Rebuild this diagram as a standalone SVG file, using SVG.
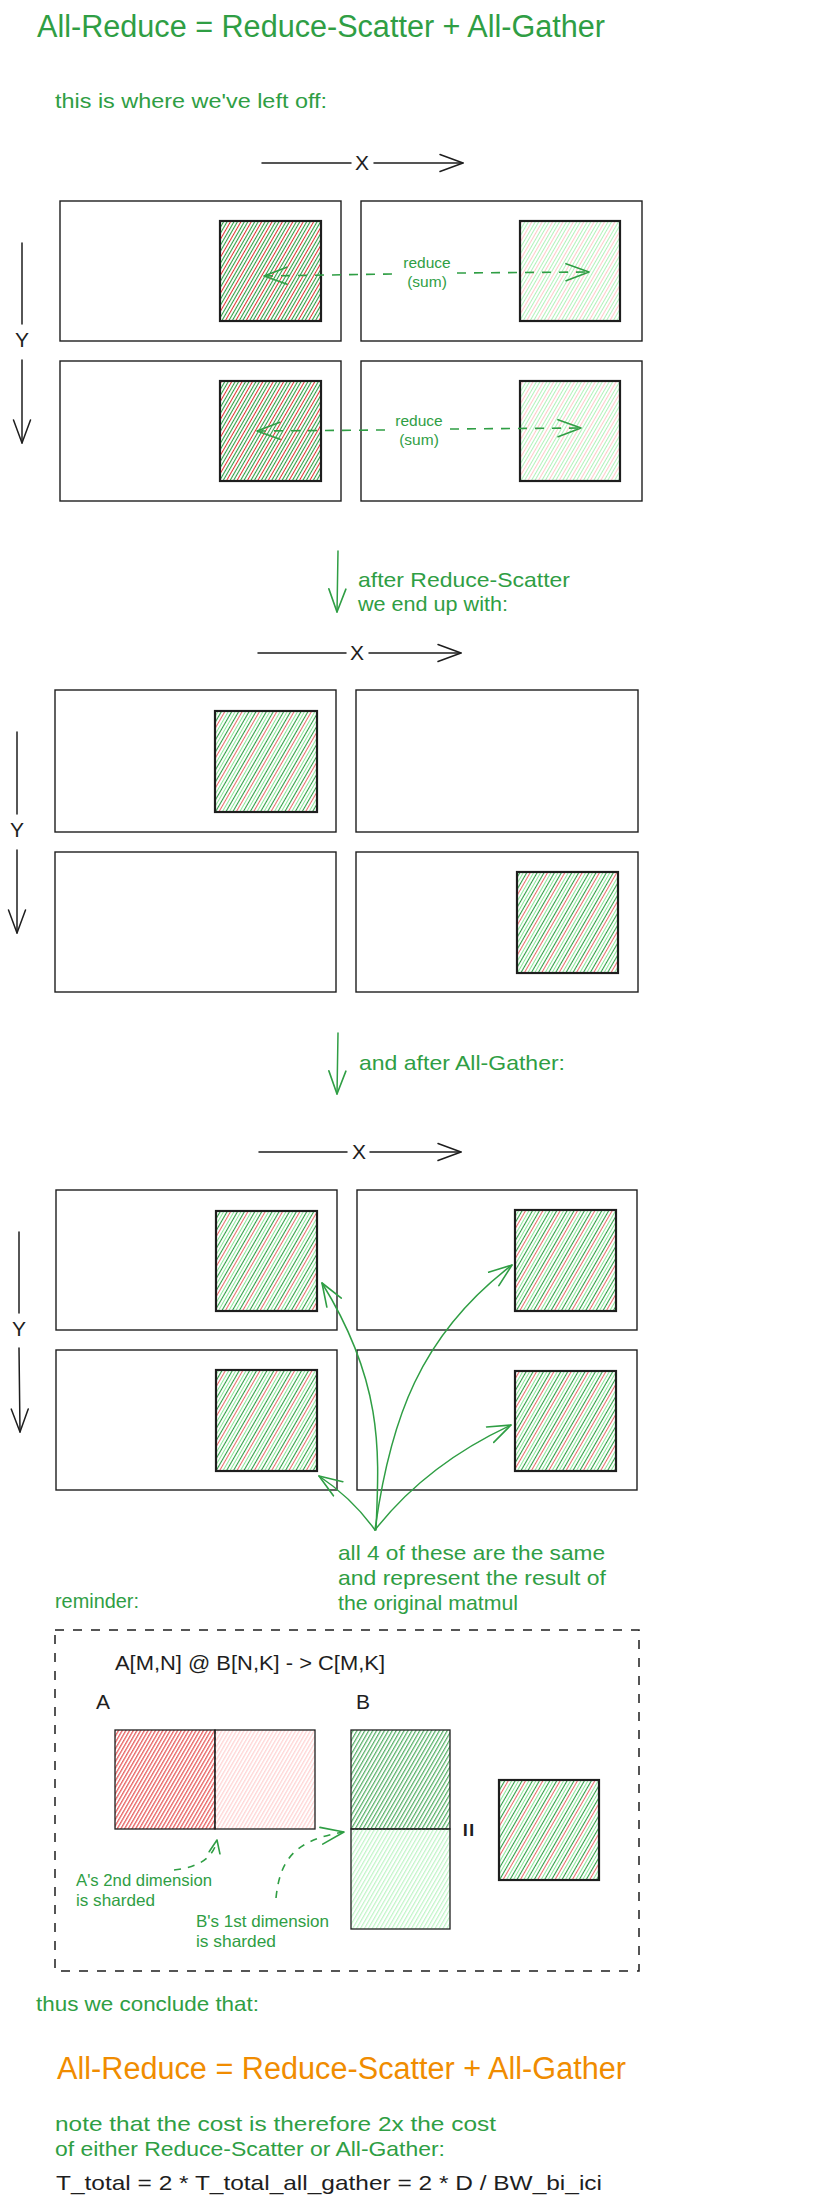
<svg xmlns="http://www.w3.org/2000/svg" width="817" height="2205" viewBox="0 0 817 2205">
<defs>
<style>
text { font-family: "Liberation Sans", Arial, sans-serif; }
.g { fill: #2f9e44; }
.k { fill: #1e1e1e; }
.o { fill: #f08c00; }
.t20 { font-size: 21px; }
.t16 { font-size: 16.5px; }
.t15 { font-size: 15.5px; }
.t30 { font-size: 31px; }
.box { fill: #ffffff; stroke: #1e1e1e; stroke-width: 1.4; }
.sq { stroke: #1e1e1e; stroke-width: 2.2; }
.mx { stroke: #1e1e1e; stroke-width: 1.3; }
.ax { fill: none; stroke: #1e1e1e; stroke-width: 1.5; stroke-linecap: round; }
.ga { fill: none; stroke: #2f9e44; stroke-width: 1.5; stroke-linecap: round; }
.gd { fill: none; stroke: #2f9e44; stroke-width: 1.6; stroke-dasharray: 9 8; }
.dash { fill: none; stroke: #1e1e1e; stroke-width: 1.5; stroke-dasharray: 9 9; }
</style>
<pattern id="pDarkMix" patternUnits="userSpaceOnUse" width="9" height="10" patternTransform="rotate(30)">
<line x1="1.5" y1="0" x2="1.5" y2="10" stroke="#2f9e44" stroke-width="1.1"/>
<line x1="4.5" y1="0" x2="4.5" y2="10" stroke="#e03131" stroke-width="1"/>
<line x1="7.5" y1="0" x2="7.5" y2="10" stroke="#2f9e44" stroke-width="1.1"/>
</pattern>
<pattern id="pLightMix" patternUnits="userSpaceOnUse" width="9" height="10" patternTransform="rotate(30)">
<line x1="1.5" y1="0" x2="1.5" y2="10" stroke="#b2f2bb" stroke-width="1"/>
<line x1="4.5" y1="0" x2="4.5" y2="10" stroke="#ffc9c9" stroke-width="1"/>
<line x1="7.5" y1="0" x2="7.5" y2="10" stroke="#b2f2bb" stroke-width="1"/>
</pattern>
<pattern id="pResult" patternUnits="userSpaceOnUse" width="15" height="10" patternTransform="rotate(30)">
<line x1="1.5" y1="0" x2="1.5" y2="10" stroke="#2f9e44" stroke-width="1.1"/>
<line x1="4.5" y1="0" x2="4.5" y2="10" stroke="#8ce99a" stroke-width="1"/>
<line x1="7.5" y1="0" x2="7.5" y2="10" stroke="#2f9e44" stroke-width="1.1"/>
<line x1="10.5" y1="0" x2="10.5" y2="10" stroke="#e03131" stroke-width="0.9" stroke-opacity="0.8"/>
<line x1="13.5" y1="0" x2="13.5" y2="10" stroke="#8ce99a" stroke-width="1"/>
</pattern>
<pattern id="pRed" patternUnits="userSpaceOnUse" width="3.2" height="10" patternTransform="rotate(30)">
<line x1="1.5" y1="0" x2="1.5" y2="10" stroke="#e03131" stroke-width="1"/>
</pattern>
<pattern id="pPink" patternUnits="userSpaceOnUse" width="3.2" height="10" patternTransform="rotate(30)">
<line x1="1.5" y1="0" x2="1.5" y2="10" stroke="#ffc9c9" stroke-width="1"/>
</pattern>
<pattern id="pGreen" patternUnits="userSpaceOnUse" width="3.4" height="10" patternTransform="rotate(30)">
<line x1="1.5" y1="0" x2="1.5" y2="10" stroke="#2f9e44" stroke-width="1"/>
</pattern>
<pattern id="pLightGreen" patternUnits="userSpaceOnUse" width="3.4" height="10" patternTransform="rotate(30)">
<line x1="1.5" y1="0" x2="1.5" y2="10" stroke="#b2f2bb" stroke-width="1"/>
</pattern>
<marker id="hk" viewBox="0 0 26 20" refX="24" refY="10" markerWidth="26" markerHeight="20" markerUnits="userSpaceOnUse" orient="auto-start-reverse">
<path d="M1,1.5 L24,10 L1,18.5" fill="none" stroke="#1e1e1e" stroke-width="1.5" stroke-linecap="round" stroke-linejoin="round"/>
</marker>
<marker id="hg" viewBox="0 0 26 20" refX="24" refY="10" markerWidth="26" markerHeight="20" markerUnits="userSpaceOnUse" orient="auto-start-reverse">
<path d="M1,1.5 L24,10 L1,18.5" fill="none" stroke="#2f9e44" stroke-width="1.6" stroke-linecap="round" stroke-linejoin="round"/>
</marker>
<marker id="hgs" viewBox="0 0 16 14" refX="14" refY="7" markerWidth="16" markerHeight="14" markerUnits="userSpaceOnUse" orient="auto">
<path d="M1,1.5 L14,7 L1,12.5" fill="none" stroke="#2f9e44" stroke-width="1.6" stroke-linecap="round" stroke-linejoin="round"/>
</marker>
</defs>

<rect x="0" y="0" width="817" height="2205" fill="#ffffff"/>

<!-- ===== Texts ===== -->
<g id="title-top"><text class="g t30" x="37" y="37" textLength="568" lengthAdjust="spacingAndGlyphs">All-Reduce = Reduce-Scatter + All-Gather</text></g>
<g id="intro-text"><text class="g t20" x="55" y="108" textLength="272" lengthAdjust="spacingAndGlyphs">this is where we've left off:</text></g>

<!-- ===== Section 1 ===== -->
<g id="s1-x-label"><text class="k t20" x="362" y="170" text-anchor="middle">X</text></g>
<g id="s1-y-label"><text class="k t20" x="22" y="347" text-anchor="middle">Y</text></g>
<g id="s1-dev-00"><rect class="box" x="60" y="201" width="281" height="140"/></g>
<g id="s1-dev-10"><rect class="box" x="361" y="201" width="281" height="140"/></g>
<g id="s1-dev-01"><rect class="box" x="60" y="361" width="281" height="140"/></g>
<g id="s1-dev-11"><rect class="box" x="361" y="361" width="281" height="140"/></g>
<g id="s1-shard-00"><rect class="sq" x="220" y="221" width="101" height="100" fill="url(#pDarkMix)"/></g>
<g id="s1-shard-10"><rect class="sq" x="520" y="221" width="100" height="100" fill="url(#pLightMix)"/></g>
<g id="s1-shard-01"><rect class="sq" x="220" y="381" width="101" height="100" fill="url(#pDarkMix)"/></g>
<g id="s1-shard-11"><rect class="sq" x="520" y="381" width="100" height="100" fill="url(#pLightMix)"/></g>
<g id="s1-reduce-label-1"><text class="g t15" x="427" y="268" text-anchor="middle">reduce</text><text class="g t15" x="427" y="287" text-anchor="middle">(sum)</text></g>
<g id="s1-reduce-label-2"><text class="g t15" x="419" y="426" text-anchor="middle">reduce</text><text class="g t15" x="419" y="445" text-anchor="middle">(sum)</text></g>

<g id="s2-caption"><text class="g t20" x="358" y="587" textLength="212" lengthAdjust="spacingAndGlyphs">after Reduce-Scatter</text><text class="g t20" x="358" y="611" textLength="150" lengthAdjust="spacingAndGlyphs">we end up with:</text></g>

<!-- ===== Section 2 ===== -->
<g id="s2-x-label"><text class="k t20" x="357" y="660" text-anchor="middle">X</text></g>
<g id="s2-y-label"><text class="k t20" x="17" y="837" text-anchor="middle">Y</text></g>
<g id="s2-dev-00"><rect class="box" x="55" y="690" width="281" height="142"/></g>
<g id="s2-dev-10"><rect class="box" x="356" y="690" width="282" height="142"/></g>
<g id="s2-dev-01"><rect class="box" x="55" y="852" width="281" height="140"/></g>
<g id="s2-dev-11"><rect class="box" x="356" y="852" width="282" height="140"/></g>
<g id="s2-shard-00"><rect class="sq" x="215" y="711" width="102" height="101" fill="url(#pResult)"/></g>
<g id="s2-shard-11"><rect class="sq" x="517" y="872" width="101" height="101" fill="url(#pResult)"/></g>

<g id="s3-caption"><text class="g t20" x="359" y="1070" textLength="206" lengthAdjust="spacingAndGlyphs">and after All-Gather:</text></g>

<!-- ===== Section 3 ===== -->
<g id="s3-x-label"><text class="k t20" x="359" y="1159" text-anchor="middle">X</text></g>
<g id="s3-y-label"><text class="k t20" x="19" y="1336" text-anchor="middle">Y</text></g>
<g id="s3-dev-00"><rect class="box" x="56" y="1190" width="281" height="140"/></g>
<g id="s3-dev-10"><rect class="box" x="357" y="1190" width="280" height="140"/></g>
<g id="s3-dev-01"><rect class="box" x="56" y="1350" width="281" height="140"/></g>
<g id="s3-dev-11"><rect class="box" x="357" y="1350" width="280" height="140"/></g>
<g id="s3-shard-00"><rect class="sq" x="216" y="1211" width="101" height="100" fill="url(#pResult)"/></g>
<g id="s3-shard-10"><rect class="sq" x="515" y="1210" width="101" height="101" fill="url(#pResult)"/></g>
<g id="s3-shard-01"><rect class="sq" x="216" y="1370" width="101" height="101" fill="url(#pResult)"/></g>
<g id="s3-shard-11"><rect class="sq" x="515" y="1371" width="101" height="100" fill="url(#pResult)"/></g>
<g id="s3-note"><text class="g t20" x="338" y="1560" textLength="267" lengthAdjust="spacingAndGlyphs">all 4 of these are the same</text><text class="g t20" x="338" y="1585" textLength="268" lengthAdjust="spacingAndGlyphs">and represent the result of</text><text class="g t20" x="338" y="1610" textLength="180" lengthAdjust="spacingAndGlyphs">the original matmul</text></g>

<!-- ===== Reminder ===== -->
<g id="reminder-label"><text class="g t20" x="55" y="1608" textLength="84" lengthAdjust="spacingAndGlyphs">reminder:</text></g>
<g id="reminder-frame"><rect class="dash" x="55" y="1630" width="584" height="341"/></g>
<g id="matmul-formula"><text class="k t20" x="115" y="1670" textLength="270" lengthAdjust="spacingAndGlyphs">A[M,N] @ B[N,K] - &gt; C[M,K]</text></g>
<g id="label-A"><text class="k t20" x="96" y="1709">A</text></g>
<g id="label-B"><text class="k t20" x="356" y="1709">B</text></g>
<g id="matrix-A-left"><rect class="mx" x="115" y="1730" width="100" height="99" fill="url(#pRed)"/></g>
<g id="matrix-A-right"><rect class="mx" x="215" y="1730" width="100" height="99" fill="url(#pPink)"/></g>
<g id="matrix-B-top"><rect class="mx" x="351" y="1730" width="99" height="99" fill="url(#pGreen)"/></g>
<g id="matrix-B-bottom"><rect class="mx" x="351" y="1829" width="99" height="100" fill="url(#pLightGreen)"/></g>
<g id="equals"><text class="k" x="468" y="1830" font-size="24" text-anchor="middle" dominant-baseline="central" font-weight="bold" transform="rotate(90 468 1830)">=</text></g>
<g id="matrix-C"><rect class="sq" x="499" y="1780" width="100" height="100" fill="url(#pResult)"/></g>
<g id="note-A"><text class="g t16" x="76" y="1886" textLength="136" lengthAdjust="spacingAndGlyphs">A's 2nd dimension</text><text class="g t16" x="76" y="1906" textLength="79" lengthAdjust="spacingAndGlyphs">is sharded</text></g>
<g id="note-B"><text class="g t16" x="196" y="1927" textLength="133" lengthAdjust="spacingAndGlyphs">B's 1st dimension</text><text class="g t16" x="196" y="1947" textLength="80" lengthAdjust="spacingAndGlyphs">is sharded</text></g>

<!-- ===== Conclusion ===== -->
<g id="conclude"><text class="g t20" x="36" y="2011" textLength="223" lengthAdjust="spacingAndGlyphs">thus we conclude that:</text></g>
<g id="title-bottom"><text class="o t30" x="57" y="2079" textLength="569" lengthAdjust="spacingAndGlyphs">All-Reduce = Reduce-Scatter + All-Gather</text></g>
<g id="cost-note"><text class="g t20" x="55" y="2131" textLength="441" lengthAdjust="spacingAndGlyphs">note that the cost is therefore 2x the cost</text><text class="g t20" x="55" y="2156" textLength="390" lengthAdjust="spacingAndGlyphs">of either Reduce-Scatter or All-Gather:</text></g>
<g id="formula"><text class="k t20" x="56" y="2190" textLength="546" lengthAdjust="spacingAndGlyphs">T_total = 2 * T_total_all_gather = 2 * D / BW_bi_ici</text></g>

<!-- ===== Connectors ===== -->
<g id="connectors">
<path class="ax" d="M262,163 L351,163"/>
<path class="ax" d="M374,163 L463,163" marker-end="url(#hk)"/>
<path class="ax" d="M22,243 L22,324"/>
<path class="ax" d="M22,360 L22,443" marker-end="url(#hk)"/>
<path class="gd" d="M264,276 L392,274 M457,273 L589,272" marker-start="url(#hg)" marker-end="url(#hg)"/>
<path class="gd" d="M257,431 L385,430 M450,429 L581,428" marker-start="url(#hg)" marker-end="url(#hg)"/>

<path class="ga" d="M338,551 L337,612" marker-end="url(#hg)"/>
<path class="ax" d="M258,653 L346,653"/>
<path class="ax" d="M369,653 L461,653" marker-end="url(#hk)"/>
<path class="ax" d="M17,732 L17,814"/>
<path class="ax" d="M17,850 L17,933" marker-end="url(#hk)"/>
<path class="ga" d="M338,1033 L337,1094" marker-end="url(#hg)"/>

<path class="ax" d="M259,1152 L347,1152"/>
<path class="ax" d="M370,1152 L461,1152" marker-end="url(#hk)"/>
<path class="ax" d="M19,1232 L19,1313"/>
<path class="ax" d="M19,1348 L20,1432" marker-end="url(#hk)"/>
<path class="ga" d="M376,1530 C379,1455 385,1385 322,1283" marker-end="url(#hg)"/>
<path class="ga" d="M375,1530 C390,1420 420,1335 512,1265" marker-end="url(#hg)"/>
<path class="ga" d="M375,1530 C400,1498 440,1458 511,1425" marker-end="url(#hg)"/>
<path class="ga" d="M375,1530 Q352,1498 319,1476" marker-end="url(#hg)"/>

<path class="gd" d="M174,1870 Q212,1866 217,1840" marker-end="url(#hgs)" style="stroke-dasharray:7 7"/>
<path class="gd" d="M276,1898 C280,1858 296,1840 344,1832" marker-end="url(#hg)" style="stroke-dasharray:7 7"/>
</g>
</svg>
